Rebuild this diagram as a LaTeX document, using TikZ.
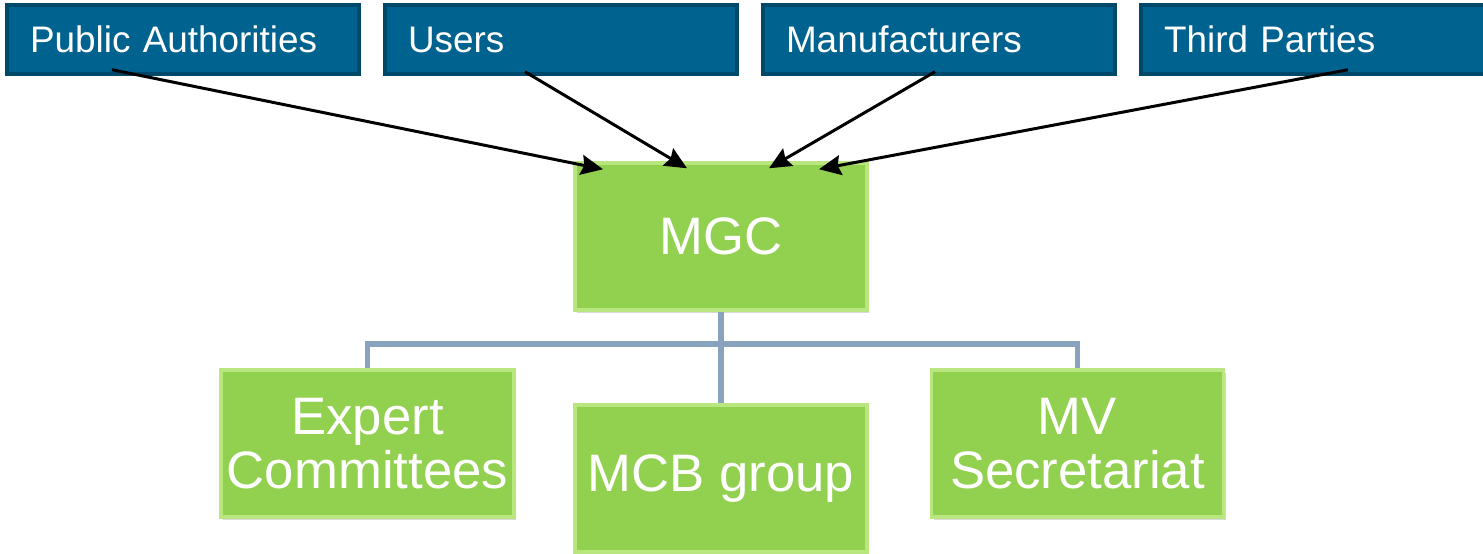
\documentclass[tikz,border=0pt]{standalone}
\usepackage{fontspec}
\setmainfont{Liberation Sans}
\usepackage{xcolor}
\usetikzlibrary{arrows.meta,shadows}

\definecolor{partyblue}{RGB}{0,99,143}
\definecolor{partyedge}{RGB}{0,72,106}
\definecolor{boardgreen}{RGB}{146,208,80}
\definecolor{boardedge}{RGB}{186,230,128}
\definecolor{treeline}{RGB}{138,163,188}

\tikzset{
party/.style={fill=partyblue, draw=partyedge, line width=0.07cm, text=white,
  minimum height=1.38cm, text width=6.12cm, inner xsep=0.46cm, align=left,
  font=\fontsize{21}{25}\selectfont},
board/.style={fill=boardgreen, draw=boardedge, line width=0.07cm, text=white,
  minimum width=5.84cm, minimum height=2.94cm, align=center,
  font=\fontsize{30}{31}\selectfont,
  drop shadow={shadow xshift=0.04cm, shadow yshift=-0.06cm, opacity=0.3}},
tree/.style={draw=treeline, line width=0.11cm}
}

\begin{document}
\begin{tikzpicture}[node distance=7.56cm]
\useasboundingbox (0,0) rectangle (29.66,-11.08);

\node (pa) [party] at (3.66,-0.79) {Public Authorities};
\node (users) [party, right of=pa] {Users};
\node (manu) [party, right of=users] {Manufacturers};
\node (third) [party, right of=manu] {Third Parties};

\node (mgc) [board] at (14.42,-4.73) {MGC};
\node (mcb) [board, below of=mgc, node distance=4.84cm] {MCB group};
\node (expert) [board] at (7.35,-8.87) {Expert\\Committees};
\node (mv) [board] at (21.55,-8.87) {MV\\Secretariat};

% tree under MGC
\coordinate (fork) at ([yshift=-0.64cm]mgc.south);
\draw[tree] (mgc.south) -- (mcb.north);
\draw[tree] (fork) -| (expert.north);
\draw[tree] (fork) -| (mv.north);

\path[-{Stealth[length=0.44cm,width=0.4cm,inset=0.06cm]}, line width=1.7pt]
([xshift=-1.42cm,yshift=0.12cm]pa.south) edge ([xshift=-2.36cm,yshift=-0.16cm]mgc.north)
([xshift=-0.72cm,yshift=0.08cm]users.south) edge ([xshift=-0.68cm,yshift=-0.14cm]mgc.north)
([xshift=-0.08cm,yshift=0.08cm]manu.south) edge ([xshift=0.96cm,yshift=-0.14cm]mgc.north)
([xshift=0.62cm,yshift=0.12cm]third.south) edge ([xshift=1.96cm,yshift=-0.16cm]mgc.north);
\end{tikzpicture}
\end{document}
